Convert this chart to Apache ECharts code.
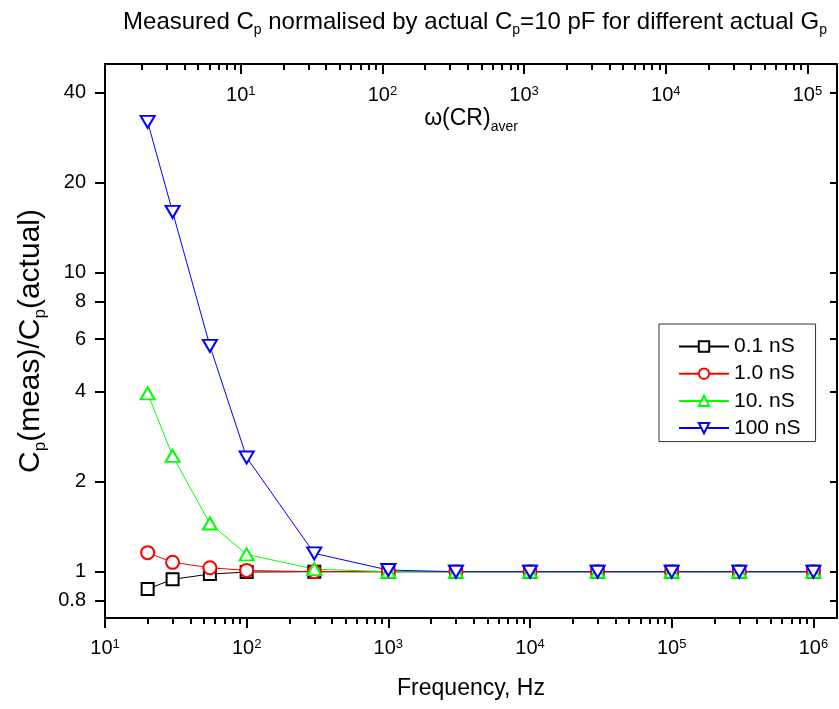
<!DOCTYPE html>
<html><head><meta charset="utf-8">
<script src="https://cdn.jsdelivr.net/npm/echarts@6/dist/echarts.min.js"></script>
<style>html,body{margin:0;padding:0;background:#fff}#c{width:839px;height:709px}</style>
</head><body><div id="c"></div>
<script>
// ---- data ----
const frequencies = [20, 30, 55, 100, 300, 1000, 3000, 10000, 30000, 100000, 300000, 1000000];
const seriesNames = ['0.1 nS', '1.0 nS', '10. nS', '100 nS'];
const cp_01nS  = [0.875, 0.943, 0.982, 0.997, 1.0, 1.0, 1.0, 1.0, 1.0, 1.0, 1.0, 1.0];
const cp_1nS   = [1.158, 1.075, 1.031, 1.01, 1.0, 1.0, 1.0, 1.0, 1.0, 1.0, 1.0, 1.0];
const cp_10nS  = [3.95, 2.44, 1.45, 1.143, 1.02, 1.0, 1.0, 1.0, 1.0, 1.0, 1.0, 1.0];
const cp_100nS = [32.0, 16.0, 5.7, 2.41, 1.152, 1.013, 1.0, 1.0, 1.0, 1.0, 1.0, 1.0];
const yTickValues = [0.8, 1, 2, 4, 6, 8, 10, 20, 40];
const freqMajorTicks = [10, 100, 1000, 10000, 100000, 1000000];
const omegaMajorTicks = [10, 100, 1000, 10000, 100000];
const freqRange = [10, 1.468e6];
const omegaRange = [1.101, 1.616e5];
const yRange = [0.7, 50];

function minorTicks(lo, hi) {
  const out = [];
  for (let d = Math.floor(Math.log10(lo)); d <= Math.ceil(Math.log10(hi)); d++) {
    for (let k = 2; k <= 9; k++) { const v = k * Math.pow(10, d); if (v > lo && v < hi) out.push(v); }
  }
  return out;
}
const freqMinorTicks = minorTicks(freqRange[0], freqRange[1]);
const omegaMinorTicks = minorTicks(omegaRange[0], omegaRange[1]);

const FONT = '"Liberation Sans", Arial, sans-serif';
const powRich = {
  b: { fontSize: 20, fontFamily: FONT, color: '#000' },
  sup: { fontSize: 13, fontFamily: FONT, color: '#000', padding: [0, 0, 7, 0] }
};
function powLabel(v) { return '{b|10}{sup|' + Math.round(Math.log10(v)) + '}'; }
const axLine = { show: true, lineStyle: { color: '#000', width: 2 } };

const colors = ['#000000', '#ff0000', '#00ff00', '#0000ff'];
const symbols = ['emptyRect', 'emptyCircle', 'emptyTriangle', 'emptyTriangle'];
const rotates = [0, 0, 0, 180];
const sizes = [[12, 12], 13, [14, 12], [14, 12]];
const values = [cp_01nS, cp_1nS, cp_10nS, cp_100nS];

const chart = echarts.init(document.getElementById('c'), null, { renderer: 'canvas' });
chart.setOption({
  animation: false,
  backgroundColor: '#fff',
  title: {
    text: '{a|Measured C}{s|p}{a| normalised by actual C}{s|p}{a|=10 pF for different actual G}{s|p}',
    left: 470, top: 2, textAlign: 'center',
    textStyle: { fontWeight: 'normal', rich: {
      a: { fontSize: 24, fontFamily: FONT, color: '#000', fontWeight: 'normal' },
      s: { fontSize: 14, fontFamily: FONT, color: '#000', fontWeight: 'normal', padding: [16, 0, 0, 0] }
    } }
  },
  legend: {
    orient: 'vertical', left: 659, top: 324,
    padding: [12, 15, 3, 19], itemGap: 6.2, itemWidth: 50, itemHeight: 13,
    borderColor: '#333', borderWidth: 1, backgroundColor: '#fff',
    textStyle: { fontSize: 21, fontFamily: FONT, color: '#000', lineHeight: 20 },
    data: seriesNames
  },
  grid: [
    { left: 105, right: 2, top: 64, bottom: 91, outerBoundsMode: 'none' },
    { left: 105, right: 2, top: 64, bottom: 91, outerBoundsMode: 'none' }
  ],
  xAxis: [
    { gridIndex: 0, type: 'log', logBase: 10, min: freqRange[0], max: freqRange[1], position: 'bottom',
      axisLine: axLine,
      axisTick: { show: true, customValues: freqMajorTicks, length: 10, lineStyle: { color: '#000', width: 2 } },
      axisLabel: { show: true, customValues: freqMajorTicks, formatter: powLabel, rich: powRich, margin: 20 },
      splitLine: { show: false },
      name: 'Frequency, Hz', nameLocation: 'middle', nameGap: 59, nameMoveOverlap: false,
      nameTextStyle: { fontSize: 23, fontFamily: FONT, color: '#000' } },
    { gridIndex: 0, type: 'log', logBase: 10, min: omegaRange[0], max: omegaRange[1], position: 'top',
      axisLine: axLine,
      axisTick: { show: true, inside: true, customValues: omegaMajorTicks, length: 10, lineStyle: { color: '#000', width: 2 } },
      axisLabel: { show: true, inside: true, customValues: omegaMajorTicks, formatter: powLabel, rich: powRich, margin: 21 },
      splitLine: { show: false },
      name: '{a|ω(CR)}{s|aver}', nameLocation: 'middle', nameGap: -70, nameMoveOverlap: false,
      nameTextStyle: { rich: {
        a: { fontSize: 23, fontFamily: FONT, color: '#000' },
        s: { fontSize: 14, fontFamily: FONT, color: '#000', padding: [16, 0, 0, 0] }
      } } },
    { gridIndex: 1, type: 'log', logBase: 10, min: freqRange[0], max: freqRange[1], position: 'bottom',
      axisLine: { show: false },
      axisTick: { show: true, customValues: freqMinorTicks, length: 6, lineStyle: { color: '#000', width: 2 } },
      axisLabel: { show: false }, splitLine: { show: false } },
    { gridIndex: 1, type: 'log', logBase: 10, min: omegaRange[0], max: omegaRange[1], position: 'top',
      axisLine: { show: false },
      axisTick: { show: true, inside: true, customValues: omegaMinorTicks, length: 6, lineStyle: { color: '#000', width: 2 } },
      axisLabel: { show: false }, splitLine: { show: false } }
  ],
  yAxis: [
    { gridIndex: 0, type: 'log', logBase: 10, min: yRange[0], max: yRange[1], position: 'left',
      axisLine: axLine,
      axisTick: { show: true, customValues: yTickValues, length: 10, lineStyle: { color: '#000', width: 2 } },
      axisLabel: { show: true, customValues: yTickValues, margin: 19, fontSize: 20, fontFamily: FONT, color: '#000',
        formatter: v => String(+v.toFixed(2)) },
      splitLine: { show: false },
      name: '{a|C}{s|p}{a|(meas)/C}{s|p}{a|(actual)}', nameLocation: 'middle', nameGap: 56, nameRotate: 90,
      nameMoveOverlap: false,
      nameTextStyle: { rich: {
        a: { fontSize: 30, fontFamily: FONT, color: '#000' },
        s: { fontSize: 17, fontFamily: FONT, color: '#000', padding: [19, 0, 0, 0] }
      } } },
    { gridIndex: 0, type: 'log', logBase: 10, min: yRange[0], max: yRange[1], position: 'right',
      axisLine: axLine,
      axisTick: { show: true, inside: true, customValues: yTickValues, length: 7, lineStyle: { color: '#000', width: 2 } },
      axisLabel: { show: false }, splitLine: { show: false } },
    { gridIndex: 1, type: 'log', logBase: 10, min: yRange[0], max: yRange[1], show: false }
  ],
  series: seriesNames.map((name, i) => ({
    name, type: 'line', xAxisIndex: 0, yAxisIndex: 0,
    data: frequencies.map((f, j) => [f, values[i][j]]),
    symbol: symbols[i], symbolRotate: rotates[i], symbolSize: sizes[i], showAllSymbol: true,
    color: colors[i],
    lineStyle: { color: colors[i], width: 1 },
    itemStyle: { color: colors[i], borderColor: colors[i], borderWidth: 1 },
    emphasis: { disabled: true }
  }))
});
</script></body></html>
